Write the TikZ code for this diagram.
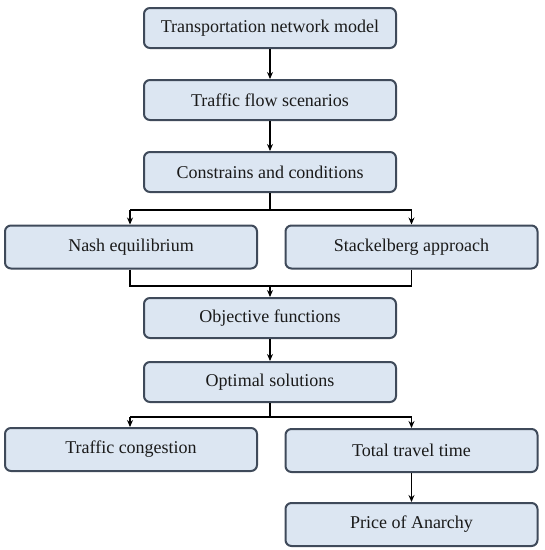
\documentclass[tikz,border=0pt]{standalone}
\usepackage{fontspec}
\setmainfont{Liberation Serif}
\usetikzlibrary{arrows.meta}
\definecolor{boxfill}{HTML}{DCE6F2}
\definecolor{boxline}{HTML}{3F4A5A}
\definecolor{txt}{HTML}{1A1A1A}
\begin{document}
\begin{tikzpicture}[x=1pt,y=-1pt,
  box/.style={draw=boxline,fill=boxfill,line width=2pt,rounded corners=6pt,
    minimum width=252pt,minimum height=40pt,inner sep=0pt,text=txt,
    font=\fontsize{18}{20}\selectfont},
  tall/.style={minimum height=43pt},
  conn/.style={line width=1.1pt,black},
  arr/.style={conn,-{Stealth[length=7pt,width=6pt]}}]
\useasboundingbox (0,0) rectangle (545,550);
\node[box] (m1) at (270,28) {Transportation network model};
\node[box] (m2) at (270,100) {Traffic flow scenarios};
\node[box] (m3) at (270,172) {Constrains and conditions};
\node[box,tall] (nash) at (131,247) {Nash equilibrium};
\node[box,tall] (stack) at (411.5,247) {Stackelberg approach};
\node[box] (m4) at (270,318) {Objective functions};
\node[box] (m5) at (270,382) {Optimal solutions};
\node[box,tall] (tc) at (131,449.5) {Traffic congestion};
\node[box,tall] (tt) at (411.5,450.5) {Total travel time};
\node[box,tall] (pa) at (411.5,524.5) {Price of Anarchy};
% split 1
\coordinate (s1) at (270,210);
\coordinate (s1l) at (130,210);
\coordinate (s1r) at (411.5,210);
\draw[arr] (m1.south) -- (m2.north);
\draw[arr] (m2.south) -- (m3.north);
\draw[conn] (m3.south) -- (s1);
\draw[conn] (s1l) -- (s1r);
\draw[arr] (s1l) -- (s1l |- nash.north);
\draw[arr] (s1r) -- (s1r |- stack.north);
% merge
\coordinate (g1) at (270,286);
\coordinate (g1l) at (130,286);
\coordinate (g1r) at (411.5,286);
\draw[conn] (g1l |- nash.south) -- (g1l) -- (g1r) -- (g1r |- stack.south);
\draw[arr] (g1) -- (m4.north);
\draw[arr] (m4.south) -- (m5.north);
% split 2
\coordinate (s2) at (270,417);
\coordinate (s2l) at (130,417);
\coordinate (s2r) at (411.5,417);
\draw[conn] (m5.south) -- (s2);
\draw[conn] (s2l) -- (s2r);
\draw[arr] (s2l) -- (s2l |- tc.north);
\draw[arr] (s2r) -- (s2r |- tt.north);
\draw[arr] (tt.south) -- (pa.north);
\end{tikzpicture}
\end{document}
